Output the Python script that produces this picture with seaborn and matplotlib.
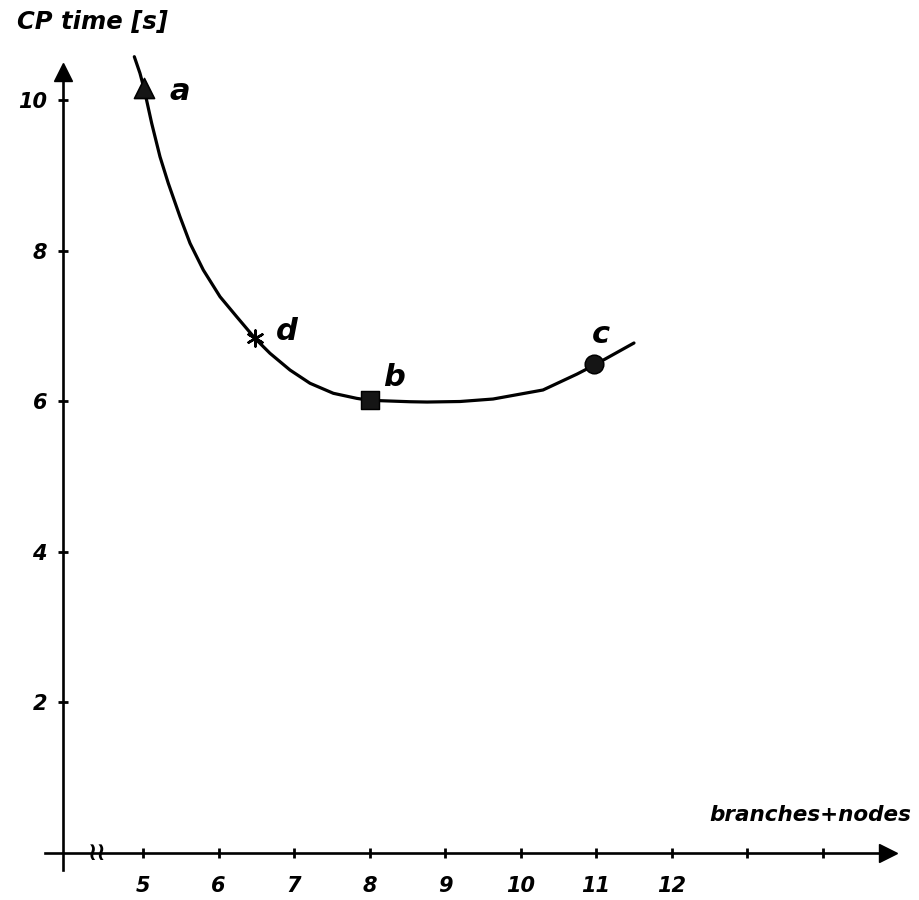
import numpy as np
import pandas as pd
import seaborn as sns
import matplotlib.pyplot as plt

# curve
curve_x = [4.885, 4.96, 5.013, 5.115, 5.225, 5.335, 5.49, 5.623, 5.799, 6.02, 6.241,
           6.483, 6.682, 6.947, 7.212, 7.521, 7.83, 8.0, 8.536, 8.762, 9.199, 9.636, 10.298,
           10.748, 10.96, 11.503]
curve_y = [10.575, 10.355, 10.155, 9.691, 9.247, 8.894, 8.45, 8.097, 7.742, 7.388, 7.122,
           6.835, 6.636, 6.414, 6.238, 6.105, 6.038, 6.012, 5.993, 5.989, 5.996, 6.029, 6.149,
           6.36, 6.47, 6.773]

# marked configurations
point_names = ['a', 'd', 'b', 'c']
point_x = [5.01, 6.49, 8.0, 10.98]
point_y = [10.16, 6.84, 6.02, 6.49]
point_markers = ['^', (6, 2, 0), 's', 'o']

x_ticks = [5, 6, 7, 8, 9, 10, 11, 12, 13, 14]
x_ticklabels = ['5', '6', '7', '8', '9', '10', '11', '12', '', '']
y_ticks = [2, 4, 6, 8, 10]

sns.set_theme(style='white')
plt.rcParams['font.family'] = ['DejaVu Sans']
plt.rcParams['text.color'] = 'black'

fig = plt.figure(figsize=(9.19, 9.0), dpi=100)
ax = fig.add_axes([0, 0, 1, 1])

df = pd.DataFrame({'n': curve_x, 't': curve_y})
sns.lineplot(data=df, x='n', y='t', sort=False, estimator=None, color='black', lw=2.3, ax=ax)

sizes = {'^': 210, 's': 170, 'o': 180}
for name, px, py, m in zip(point_names, point_x, point_y, point_markers):
    if m == (6, 2, 0):
        sns.scatterplot(x=[px], y=[py], marker=m, s=130, color='black', linewidth=1.8, ax=ax, zorder=5)
    else:
        sns.scatterplot(x=[px], y=[py], marker=m, s=sizes[m], color='#151515', edgecolor='black', ax=ax, zorder=5)

# letter positions relative to the points
label_offsets = {'a': (0.48, -0.05), 'd': (0.42, 0.08), 'b': (0.33, 0.3), 'c': (0.08, 0.39)}
for name, px, py in zip(point_names, point_x, point_y):
    dx, dy = label_offsets[name]
    ax.text(px + dx, py + dy, name, fontsize=22, style='italic', fontweight='bold',
            color='black', ha='center', va='center')

ax.set_xlim(3.106, 15.278)
ax.set_ylim(-0.624, 11.328)

# hand-drawn style axes
for s in ['top', 'right']:
    ax.spines[s].set_visible(False)
ax.spines['left'].set_position(('data', 3.94))
ax.spines['bottom'].set_position(('data', 0))
ax.spines['left'].set_bounds(-0.23, 10.3)
ax.spines['bottom'].set_bounds(3.70, 14.8)
for s in ['left', 'bottom']:
    ax.spines[s].set_linewidth(1.9)
    ax.spines[s].set_color('black')
ax.plot([14.87], [0], marker='>', ms=13, color='black', clip_on=False)
ax.plot([3.94], [10.37], marker='^', ms=13, color='black', clip_on=False)

ax.set_xticks(x_ticks)
ax.set_xticklabels(x_ticklabels)
ax.set_yticks(y_ticks)
ax.set_yticklabels([str(v) for v in y_ticks])
ax.tick_params(axis='both', bottom=True, left=True, direction='inout', length=7, width=2,
               color='black', labelcolor='black', labelsize=15)
ax.tick_params(axis='x', pad=13)
ax.tick_params(axis='y', pad=8)
for lab in ax.get_xticklabels() + ax.get_yticklabels():
    lab.set_fontstyle('italic')
    lab.set_fontweight('bold')

ax.text(4.39, 0, '≀≀', fontsize=18, ha='center', va='center', fontweight='bold', color='black')
ax.set_xlabel('')
ax.set_ylabel('')
ax.text(4.33, 11.04, 'CP time [s]', fontsize=17.5, style='italic', fontweight='bold',
        color='black', ha='center', va='center')
ax.text(13.84, 0.5, 'branches+nodes', fontsize=15.5, style='italic', fontweight='bold',
        color='black', ha='center', va='center')

fig.savefig('out.png', dpi=100)
